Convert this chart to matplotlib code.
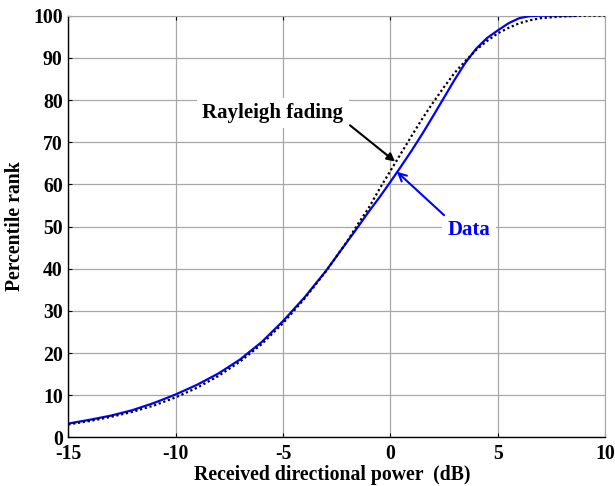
import matplotlib
matplotlib.use("Agg")
import matplotlib.pyplot as plt

# Rayleigh fading reference (dotted black)
ray_x = [-15, -14, -13, -12, -11, -10, -9, -8, -7, -6, -5, -4, -3, -2.5, -2, -1.5,
         -1, -0.5, 0, 0.5, 1, 1.5, 2, 2.5, 3, 3.5, 4, 4.5, 5, 5.5, 6, 6.5, 7, 7.5,
         8, 9, 10]
ray_y = [3.1, 3.9, 4.9, 6.1, 7.6, 9.5, 11.8, 14.6, 18.0, 22.1, 27.1, 32.9, 39.4,
         43.0, 46.6, 50.7, 54.5, 59.0, 63.2, 67.4, 71.6, 75.7, 79.5, 83.1, 86.5,
         89.3, 91.9, 94.0, 95.8, 97.1, 98.2, 98.9, 99.4, 99.6, 99.8, 100, 100]

# Measured data (solid blue)
data_x = [-15, -14, -13, -12, -11, -10, -9, -8, -7, -6, -5, -4, -3, -2, -1.5, -1,
          -0.5, 0, 0.5, 1, 1.5, 2, 2.5, 3, 3.5, 4, 4.5, 5, 5.5, 6, 6.5, 7, 8, 8.7]
data_y = [3.3, 4.2, 5.2, 6.5, 8.2, 10.2, 12.5, 15.2, 18.5, 22.6, 27.6, 33.2, 39.5,
          46.5, 50.0, 53.6, 57.0, 60.6, 64.3, 68.1, 72.1, 76.3, 80.6, 84.9, 88.9,
          92.2, 94.7, 96.5, 98.2, 99.4, 99.9, 100, 100, 100]

xticks = [-15, -10, -5, 0, 5, 10]
yticks = [0, 10, 20, 30, 40, 50, 60, 70, 80, 90, 100]

plt.rcParams['font.family'] = ['Liberation Serif', 'DejaVu Serif']
plt.rcParams['font.weight'] = 'bold'

fig = plt.figure(figsize=(6.15, 4.86), dpi=100)
ax = fig.add_axes([0.111, 0.0998, 0.873, 0.868])

ax.plot(data_x, data_y, color='#0000ff', lw=1.6, solid_capstyle='butt', zorder=3)
ax.plot(ray_x, ray_y, color='black', lw=1.6, linestyle=(0, (1, 1.2)), zorder=4)

ax.set_xlim(-15, 10)
ax.set_ylim(0, 100)
ax.set_xticks(xticks)
ax.set_yticks(yticks)
ax.set_xticklabels([str(t) for t in xticks], fontsize=14.2, fontweight='bold')
ax.set_yticklabels([str(t) for t in yticks], fontsize=14.2, fontweight='bold')
ax.tick_params(direction='in', length=3, width=0.8, top=True, right=False,
               colors='black')
ax.tick_params(axis='x', pad=5)
ax.tick_params(axis='y', pad=4)
ax.grid(True, color='#a8a8a8', lw=0.9, linestyle='-', zorder=0)
ax.set_axisbelow(True)
for s in ['top', 'right']:
    ax.spines[s].set_color('#a8a8a8')
for s in ['left', 'bottom']:
    ax.spines[s].set_color('black')
    ax.spines[s].set_linewidth(1.0)

ax.set_xlabel('Received directional power  (dB)', fontsize=14.2, fontweight='bold')
ax.xaxis.label.set_va('center')
ax.xaxis.set_label_coords(0.491, -0.088)
ax.set_ylabel('Percentile rank', fontsize=14.2, fontweight='bold', labelpad=6)

ax.text(-5.47, 76.9, 'Rayleigh fading', fontsize=15, fontweight='bold',
        color='black', ha='center', va='center', zorder=5,
        bbox=dict(boxstyle='square,pad=0.25', fc='white', ec='none'))
ax.annotate('', xy=(0.22, 65.4), xytext=(-1.88, 74.0),
            arrowprops=dict(arrowstyle='-|>', color='black', lw=1.5,
                            mutation_scale=12, shrinkA=0, shrinkB=0), zorder=5)

ax.text(3.66, 49.2, 'Data', fontsize=15, fontweight='bold',
        color='#0000ff', ha='center', va='center', zorder=5,
        bbox=dict(boxstyle='square,pad=0.25', fc='white', ec='none'))
ax.annotate('', xy=(0.30, 63.0), xytext=(2.5, 52.7),
            arrowprops=dict(arrowstyle='->', color='#0000ff', lw=1.5,
                            mutation_scale=14, shrinkA=0, shrinkB=0), zorder=5)

fig.savefig('out.png', dpi=100)
